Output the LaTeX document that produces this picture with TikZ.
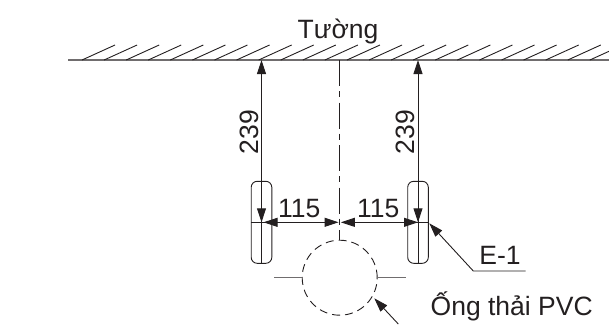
\documentclass[tikz,border=0pt]{standalone}
\usepackage{fontspec}
\setmainfont{Liberation Sans}
\usetikzlibrary{calc, positioning, arrows.meta}
\definecolor{inkline}{HTML}{231F20}
\tikzset{
    dimline/.style={draw=inkline, line width=0.9pt, {Triangle[length=14pt,width=9pt]}-{Triangle[length=14pt,width=9pt]}},
    leaderline/.style={draw=inkline, line width=0.9pt, {Triangle[length=14pt,width=9pt]}-},
    thinline/.style={draw=inkline, line width=0.9pt},
    greyline/.style={draw=inkline!65, line width=1.3pt},
    label/.style={font=\fontsize{26.5}{26.5}\selectfont, text=inkline, inner sep=0pt},
}
\begin{document}
\begin{tikzpicture}[x=1pt, y=-1pt]
    \useasboundingbox (0,0) rectangle (609,325);
    % wall
    \coordinate (wallL) at (68,60);
    \coordinate (wallR) at (609,60);
    \draw [greyline] (wallL) -- (wallR);
    \foreach \i in {0,...,23} {
        \draw [thinline] (82+22.08*\i,60) -- ++(33,-15);
    }
    \node [label, anchor=base] (wall) at (338,38) {Tường};
    % center line
    \coordinate (axisT) at (339.7,60);
    \coordinate (axisB) at (339.7,240);
    \draw [thinline, dash pattern=on 26pt off 5pt on 6pt off 5.5pt] (axisT) -- (axisB);
    % pipe
    \node [circle, draw=inkline, dash pattern=on 8pt off 5pt, line width=0.9pt, minimum size=75pt, inner sep=0pt] (pipe) at (339.7,277.7) {};
    \coordinate (tickLa) at (274,277.7);
    \coordinate (tickRa) at (405.7,277.7);
    \draw [greyline] (tickLa) -- (pipe.west);
    \draw [greyline] (pipe.east) -- (tickRa);
    % clamps
    \foreach \n/\x in {capL/261.5, capR/418} {
        \node [draw=inkline, line width=0.9pt, rounded corners=6pt, minimum width=20.6pt, minimum height=82pt, inner sep=0pt] (\n) at (\x,222.3) {};
        \draw [thinline] (\n.north) -- (\n.south);
        \draw [thinline] (\n.west) -- (\n.east);
    }
    % dimensions
    \coordinate (wallA) at (261.5,60);
    \coordinate (wallB) at (418,60);
    \coordinate (midA) at (338.6,222.3);
    \coordinate (midB) at (340.8,222.3);
    \draw [dimline] (wallA) -- (capL.center);
    \draw [dimline] (wallB) -- (capR.center);
    \draw [dimline] (capL.center) ++(2,0) -- (midA);
    \draw [dimline] (midB) -- (capR.center);
    \node [label, rotate=90] (dimA) at (249.3,132) {239};
    \node [label, rotate=90] (dimB) at (405.7,132) {239};
    \node [label] (dimC) at (299.3,208.3) {115};
    \node [label] (dimD) at (378.3,208.3) {115};
    % leaders
    \coordinate (tipE) at (429.3,223.3);
    \coordinate (kneeE) at (473.3,271);
    \coordinate (endE) at (525.7,271);
    \coordinate (tipP) at (374.3,298.3);
    \coordinate (endP) at (398.3,324);
    \draw [leaderline] (tipE) -- (kneeE) -- (endE);
    \draw [leaderline] (tipP) -- (endP);
    \node [label] (clip) at (500,255.7) {E-1};
    \node [label, anchor=base] (drain) at (511.7,315) {Ống thải PVC};
\end{tikzpicture}
\end{document}
